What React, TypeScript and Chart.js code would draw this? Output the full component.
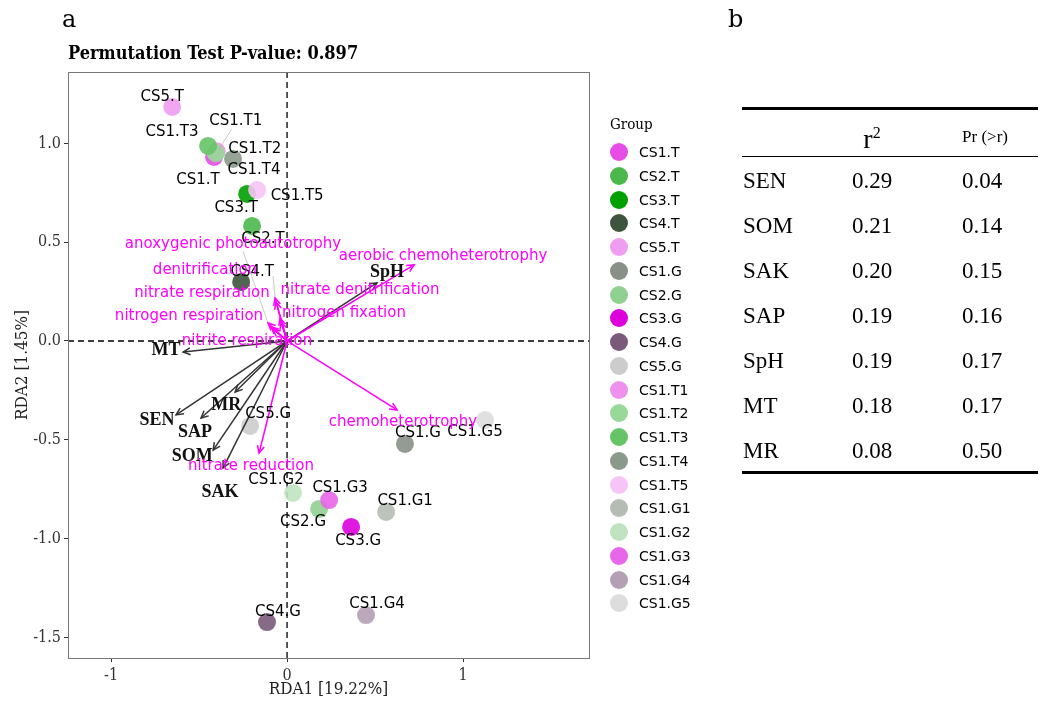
import React, { useEffect, useRef } from "react";
import { Chart, registerables } from "chart.js";
Chart.register(...registerables);

// ---- data ----
const groups = ["CS1.T","CS2.T","CS3.T","CS4.T","CS5.T","CS1.G","CS2.G","CS3.G","CS4.G","CS5.G","CS1.T1","CS1.T2","CS1.T3","CS1.T4","CS1.T5","CS1.G1","CS1.G2","CS1.G3","CS1.G4","CS1.G5"];
const groupColors = ["#e64ce6","#4cb84c","#00a000","#3d553d","#f09cf0","#889088","#90d090","#dd00dd","#7a5a7a","#cccccc","#ee90ee","#98d898","#66c466","#8a9a8a","#f6c4f6","#b4bcb4","#c0e4c0","#e866e8","#b4a0b4","#dddddd"];
const rda1 = [-0.415,-0.199,-0.227,-0.261,-0.653,0.670,0.182,0.364,-0.114,-0.210,-0.400,-0.405,-0.449,-0.307,-0.170,0.563,0.034,0.239,0.449,1.125];
const rda2 = [0.931,0.582,0.744,0.299,1.184,-0.521,-0.850,-0.941,-1.422,-0.430,0.960,0.950,0.987,0.921,0.764,-0.865,-0.769,-0.805,-1.387,-0.400];
// label offsets (px) from each point
const labelDx = [-16,11,-11,11,-10,13,-16,7,11,18,19,39,-36,21,40,19,-17,11,11,-10];
const labelDy = [23,13,14,-10,-10,-11,13,14,-10,-12,-30,-4,-14,11,6,-11,-13,-12,-11,12];

const envVars = ["MT","SEN","SAP","MR","SOM","SAK","SpH"];
const envX = [-0.591,-0.631,-0.489,-0.295,-0.420,-0.364,0.511];
const envY = [-0.056,-0.374,-0.390,-0.258,-0.552,-0.643,0.294];
const envLabelDx = [-17,-19,-6,-9,-21,-3,10];
const envLabelDy = [-2,5,14,13,6,24,-11];

const funcNames = ["aerobic chemoheterotrophy","chemoheterotrophy","nitrate reduction","anoxygenic photoautotrophy","denitrification","nitrate respiration","nitrogen respiration","nitrite respiration","nitrate denitrification","nitrogen fixation"];
const funcX = [0.722,0.625,-0.159,-0.108,-0.068,-0.063,-0.091,-0.080,-0.040,-0.034];
const funcY = [0.385,-0.349,-0.567,0.091,0.218,0.197,0.071,0.061,0.116,0.096];
const funcLabelX = [443,403,251,233,205,202,189,247,360,344];
const funcLabelY = [256,422,466,244,270,293,316,341,290,313];

const tableVars = ["SEN","SOM","SAK","SAP","SpH","MT","MR"];
const tableR2 = ["0.29","0.21","0.20","0.19","0.19","0.18","0.08"];
const tablePr = ["0.04","0.14","0.15","0.16","0.17","0.17","0.50"];

const xTicks = [-1, 0, 1];
const yTicks = [-1.5, -1, -0.5, 0, 0.5, 1];

function hexA(hex: string, a: number) {
  const n = parseInt(hex.slice(1), 16);
  return `rgba(${(n >> 16) & 255},${(n >> 8) & 255},${n & 255},${a})`;
}

function drawArrow(ctx: CanvasRenderingContext2D, x0: number, y0: number, x1: number, y1: number, color: string) {
  ctx.save();
  ctx.strokeStyle = color;
  ctx.lineWidth = 1.5;
  ctx.beginPath();
  ctx.moveTo(x0, y0);
  ctx.lineTo(x1, y1);
  ctx.stroke();
  const ang = Math.atan2(y1 - y0, x1 - x0);
  const L = 8;
  ctx.beginPath();
  ctx.moveTo(x1 - L * Math.cos(ang - 0.45), y1 - L * Math.sin(ang - 0.45));
  ctx.lineTo(x1, y1);
  ctx.lineTo(x1 - L * Math.cos(ang + 0.45), y1 - L * Math.sin(ang + 0.45));
  ctx.stroke();
  ctx.restore();
}

const rdaPlugin = {
  id: "rdaPlugin",
  beforeDatasetsDraw(chart: any) {
    const { ctx, chartArea, scales } = chart;
    const x0 = scales.x.getPixelForValue(0);
    const y0 = scales.y.getPixelForValue(0);
    ctx.save();
    ctx.strokeStyle = "#000";
    ctx.lineWidth = 1.3;
    ctx.setLineDash([6, 4]);
    ctx.beginPath();
    ctx.moveTo(chartArea.left, y0);
    ctx.lineTo(chartArea.right, y0);
    ctx.moveTo(x0, chartArea.top);
    ctx.lineTo(x0, chartArea.bottom);
    ctx.stroke();
    ctx.restore();
  },
  afterDatasetsDraw(chart: any) {
    const { ctx, chartArea, scales } = chart;
    const px = (v: number) => scales.x.getPixelForValue(v);
    const py = (v: number) => scales.y.getPixelForValue(v);
    const ox = px(0), oy = py(0);
    // leader lines
    ctx.save();
    ctx.strokeStyle = "rgba(180,180,180,0.9)";
    ctx.lineWidth = 0.8;
    const leaders: [number, number, number, number][] = [
      [px(rda1[10]) + 15, py(rda2[10]) - 22, px(rda1[10]) + 2, py(rda2[10]) - 2],
      [243, 251, px(funcX[3]), py(funcY[3])],
      [273, 276, px(funcX[4]), py(funcY[4])],
    ];
    leaders.forEach(([a, b, c, d]) => { ctx.beginPath(); ctx.moveTo(a, b); ctx.lineTo(c, d); ctx.stroke(); });
    ctx.restore();
    // env arrows
    envVars.forEach((_, i) => drawArrow(ctx, ox, oy, px(envX[i]), py(envY[i]), "#333333"));
    funcNames.forEach((_, i) => drawArrow(ctx, ox, oy, px(funcX[i]), py(funcY[i]), "#ff00ff"));
    // point labels
    ctx.save();
    ctx.textAlign = "center";
    ctx.textBaseline = "middle";
    ctx.font = "15px 'DejaVu Sans'";
    ctx.fillStyle = "#000";
    groups.forEach((g, i) => ctx.fillText(g, px(rda1[i]) + labelDx[i], py(rda2[i]) + labelDy[i]));
    ctx.font = "bold 18px 'Liberation Serif'";
    ctx.fillStyle = "#111";
    envVars.forEach((g, i) => ctx.fillText(g, px(envX[i]) + envLabelDx[i], py(envY[i]) + envLabelDy[i]));
    ctx.font = "15px 'DejaVu Sans'";
    ctx.fillStyle = "#ff00ff";
    funcNames.forEach((g, i) => ctx.fillText(g, funcLabelX[i], funcLabelY[i]));
    ctx.restore();
    // panel border
    ctx.save();
    ctx.strokeStyle = "#777";
    ctx.lineWidth = 1;
    ctx.strokeRect(chartArea.left + 0.5, chartArea.top + 0.5, chartArea.right - chartArea.left, chartArea.bottom - chartArea.top);
    ctx.restore();
  },
};

const condSerif = "'DejaVu Serif Condensed', 'DejaVu Serif'";
const tickFont = { family: condSerif, size: 16 };

export default function App() {
  const ref = useRef<HTMLCanvasElement | null>(null);
  useEffect(() => {
    if (!ref.current) return;
    const chart = new Chart(ref.current, {
      type: "scatter",
      data: {
        datasets: groups.map((g, i) => ({
          label: g,
          data: [{ x: rda1[i], y: rda2[i] }],
          backgroundColor: hexA(groupColors[i], 0.9),
          borderColor: hexA(groupColors[i], 0.9),
          borderWidth: 0,
          pointRadius: 9,
          order: groups.length - i,
        })),
      },
      options: {
        animation: false,
        responsive: false,
        layout: { padding: { left: 0, right: 455, top: 72, bottom: 0 } },
        plugins: { legend: { display: false }, tooltip: { enabled: false } },
        scales: {
          x: {
            type: "linear",
            min: -1.245,
            max: 1.716,
            afterBuildTicks: (s: any) => { s.ticks = xTicks.map((v) => ({ value: v })); },
            afterFit: (s: any) => { s.height = 44; },
            ticks: { font: tickFont, color: "#333", padding: 4, callback: (v: any) => String(v) },
            grid: { drawOnChartArea: false, tickLength: 4, color: "#333" },
            border: { display: false },
            title: { display: true, text: "RDA1 [19.22%]", font: { family: condSerif, size: 17 }, color: "#222", padding: { top: 0, bottom: 2 } },
          },
          y: {
            type: "linear",
            min: -1.604,
            max: 1.361,
            afterBuildTicks: (s: any) => { s.ticks = yTicks.map((v) => ({ value: v })); },
            afterFit: (s: any) => { s.width = 68; },
            ticks: { font: tickFont, color: "#333", padding: 3, callback: (v: any) => Number(v).toFixed(1) },
            grid: { drawOnChartArea: false, tickLength: 4, color: "#333" },
            border: { display: false },
            title: { display: true, text: "RDA2 [1.45%]", font: { family: condSerif, size: 17 }, color: "#222", padding: { top: 12, bottom: 0 } },
          },
        },
      },
      plugins: [rdaPlugin],
    });
    return () => chart.destroy();
  }, []);

  const serif = "'Liberation Serif', serif";
  return (
    <div style={{ position: "fixed", left: 0, top: 0, width: 1044, height: 702, background: "#fff", overflow: "hidden" }}>
      <canvas ref={ref} width={1044} height={702} style={{ position: "absolute", left: 0, top: 0, width: 1044, height: 702 }} />
      <div style={{ position: "absolute", left: 62, top: 4, fontFamily: "'DejaVu Serif'", fontSize: 24, lineHeight: "30px" }}>a</div>
      <div style={{ position: "absolute", left: 728, top: 4, fontFamily: "'DejaVu Serif'", fontSize: 24, lineHeight: "30px" }}>b</div>
      <div style={{ position: "absolute", left: 68, top: 42, fontFamily: "'DejaVu Serif'", fontWeight: "bold", fontSize: 18, lineHeight: "22px", fontStretch: "condensed", whiteSpace: "nowrap" }}>
        Permutation Test P-value: 0.897
      </div>
      {/* legend */}
      <div style={{ position: "absolute", left: 610, top: 114, fontFamily: "'DejaVu Serif'", fontSize: 15, fontStretch: "condensed", lineHeight: "20px" }}>Group</div>
      {groups.map((g, i) => (
        <div key={g} style={{ position: "absolute", left: 609, top: 152 + i * 23.75 - 10, height: 20, display: "flex", alignItems: "center" }}>
          <div style={{ width: 18, height: 18, borderRadius: 9, background: groupColors[i], marginLeft: 1 }} />
          <div style={{ marginLeft: 11, fontFamily: "'DejaVu Sans'", fontSize: 14, lineHeight: "20px" }}>{g}</div>
        </div>
      ))}
      {/* table */}
      <div style={{ position: "absolute", left: 742, top: 107, width: 296, height: 3, background: "#000" }} />
      <div style={{ position: "absolute", left: 742, top: 156, width: 296, height: 1, background: "#000" }} />
      <div style={{ position: "absolute", left: 742, top: 471, width: 296, height: 3, background: "#000" }} />
      <div style={{ position: "absolute", left: 842, top: 116, width: 60, textAlign: "center", fontFamily: serif, fontSize: 28, lineHeight: "34px" }}>
        r<sup style={{ fontSize: 16 }}>2</sup>
      </div>
      <div style={{ position: "absolute", left: 940, top: 126, width: 90, textAlign: "center", fontFamily: serif, fontSize: 17, lineHeight: "22px" }}>Pr (&gt;r)</div>
      {tableVars.map((v, i) => (
        <React.Fragment key={v}>
          <div style={{ position: "absolute", left: 743, top: 181 + i * 45 - 15, fontFamily: serif, fontSize: 23, lineHeight: "30px" }}>{v}</div>
          <div style={{ position: "absolute", left: 832, top: 181 + i * 45 - 15, width: 80, textAlign: "center", fontFamily: serif, fontSize: 23, lineHeight: "30px" }}>{tableR2[i]}</div>
          <div style={{ position: "absolute", left: 942, top: 181 + i * 45 - 15, width: 80, textAlign: "center", fontFamily: serif, fontSize: 23, lineHeight: "30px" }}>{tablePr[i]}</div>
        </React.Fragment>
      ))}
    </div>
  );
}
